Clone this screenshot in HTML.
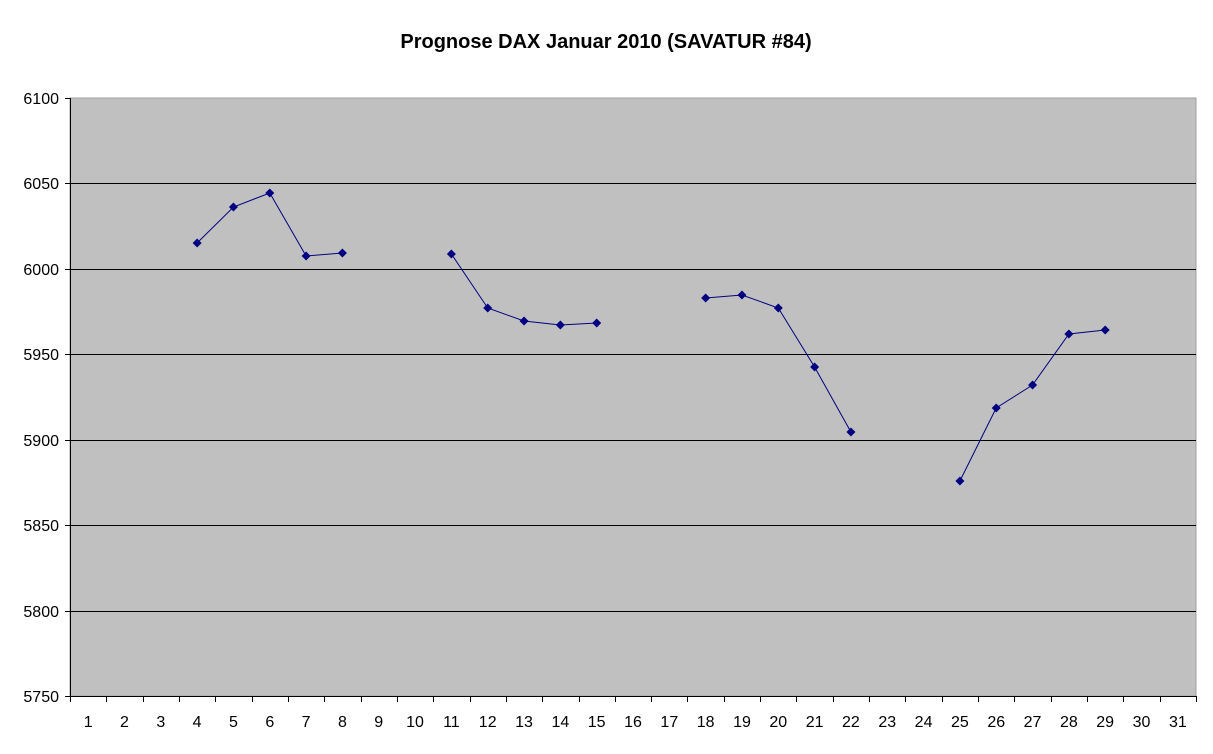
<!DOCTYPE html>
<html><head><meta charset="utf-8"><style>
html,body{margin:0;padding:0;background:#fff;}
svg{display:block;font-family:"Liberation Sans",Arial,sans-serif;}
</style></head><body>
<svg width="1213" height="754" viewBox="0 0 1213 754" xmlns="http://www.w3.org/2000/svg">
<text x="606" y="48" text-anchor="middle" font-size="20" font-weight="bold">Prognose DAX Januar 2010 (SAVATUR #84)</text>
<rect x="70" y="98" width="1126" height="598" fill="#c0c0c0" stroke="#a0a0a0" stroke-width="1"/>
<g stroke="#000" stroke-width="1" shape-rendering="crispEdges">
<line x1="70" y1="183.5" x2="1196" y2="183.5"/>
<line x1="70" y1="269.5" x2="1196" y2="269.5"/>
<line x1="70" y1="354.5" x2="1196" y2="354.5"/>
<line x1="70" y1="440.5" x2="1196" y2="440.5"/>
<line x1="70" y1="525.5" x2="1196" y2="525.5"/>
<line x1="70" y1="611.5" x2="1196" y2="611.5"/>
<line x1="70.5" y1="98" x2="70.5" y2="697"/>
<line x1="70" y1="696.5" x2="1196" y2="696.5"/>
<line x1="65" y1="98.5" x2="70" y2="98.5"/>
<line x1="65" y1="183.5" x2="70" y2="183.5"/>
<line x1="65" y1="269.5" x2="70" y2="269.5"/>
<line x1="65" y1="354.5" x2="70" y2="354.5"/>
<line x1="65" y1="440.5" x2="70" y2="440.5"/>
<line x1="65" y1="525.5" x2="70" y2="525.5"/>
<line x1="65" y1="611.5" x2="70" y2="611.5"/>
<line x1="65" y1="696.5" x2="70" y2="696.5"/>
</g>
<g font-size="16" text-anchor="end">
<text x="59" y="104">6100</text><text x="59" y="189">6050</text><text x="59" y="275">6000</text>
<text x="59" y="360">5950</text><text x="59" y="446">5900</text><text x="59" y="531">5850</text>
<text x="59" y="617">5800</text><text x="59" y="702">5750</text>
</g>
<g id="xt" stroke="#000" shape-rendering="crispEdges"></g>
<g id="xl" font-size="16" text-anchor="middle"></g>
<g id="series" fill="none" stroke="#000080" stroke-width="1"></g>
<g id="marks" fill="#000080"></g>
<script>
var ns="http://www.w3.org/2000/svg",w=1126/31;
var xt=document.getElementById('xt'),xl=document.getElementById('xl');
for(var i=0;i<=31;i++){var x=Math.round(70+i*w)+0.5;var l=document.createElementNS(ns,'line');
l.setAttribute('x1',x);l.setAttribute('x2',x);l.setAttribute('y1',696);l.setAttribute('y2',702);xt.appendChild(l);}
for(var i=1;i<=31;i++){var t=document.createElementNS(ns,'text');t.setAttribute('x',70+(i-0.5)*w);t.setAttribute('y',727);t.textContent=i;xl.appendChild(t);}
var segs=[[[4,243],[5,207],[6,193],[7,256],[8,253]],[[11,254],[12,308],[13,321],[14,325],[15,323]],
[[18,298],[19,295],[20,308],[21,367],[22,432]],[[25,481],[26,408],[27,385],[28,334],[29,330]]];
var s=document.getElementById('series'),m=document.getElementById('marks');
segs.forEach(function(g){var p=g.map(function(d){return (70+(d[0]-0.5)*w).toFixed(1)+','+d[1]}).join(' ');
var pl=document.createElementNS(ns,'polyline');pl.setAttribute('points',p);s.appendChild(pl);
g.forEach(function(d){var x=70+(d[0]-0.5)*w,y=d[1];var q=document.createElementNS(ns,'polygon');
q.setAttribute('points',(x)+','+(y-4.5)+' '+(x+4.5)+','+y+' '+x+','+(y+4.5)+' '+(x-4.5)+','+y);m.appendChild(q);});});
</script>
</svg>
</body></html>
